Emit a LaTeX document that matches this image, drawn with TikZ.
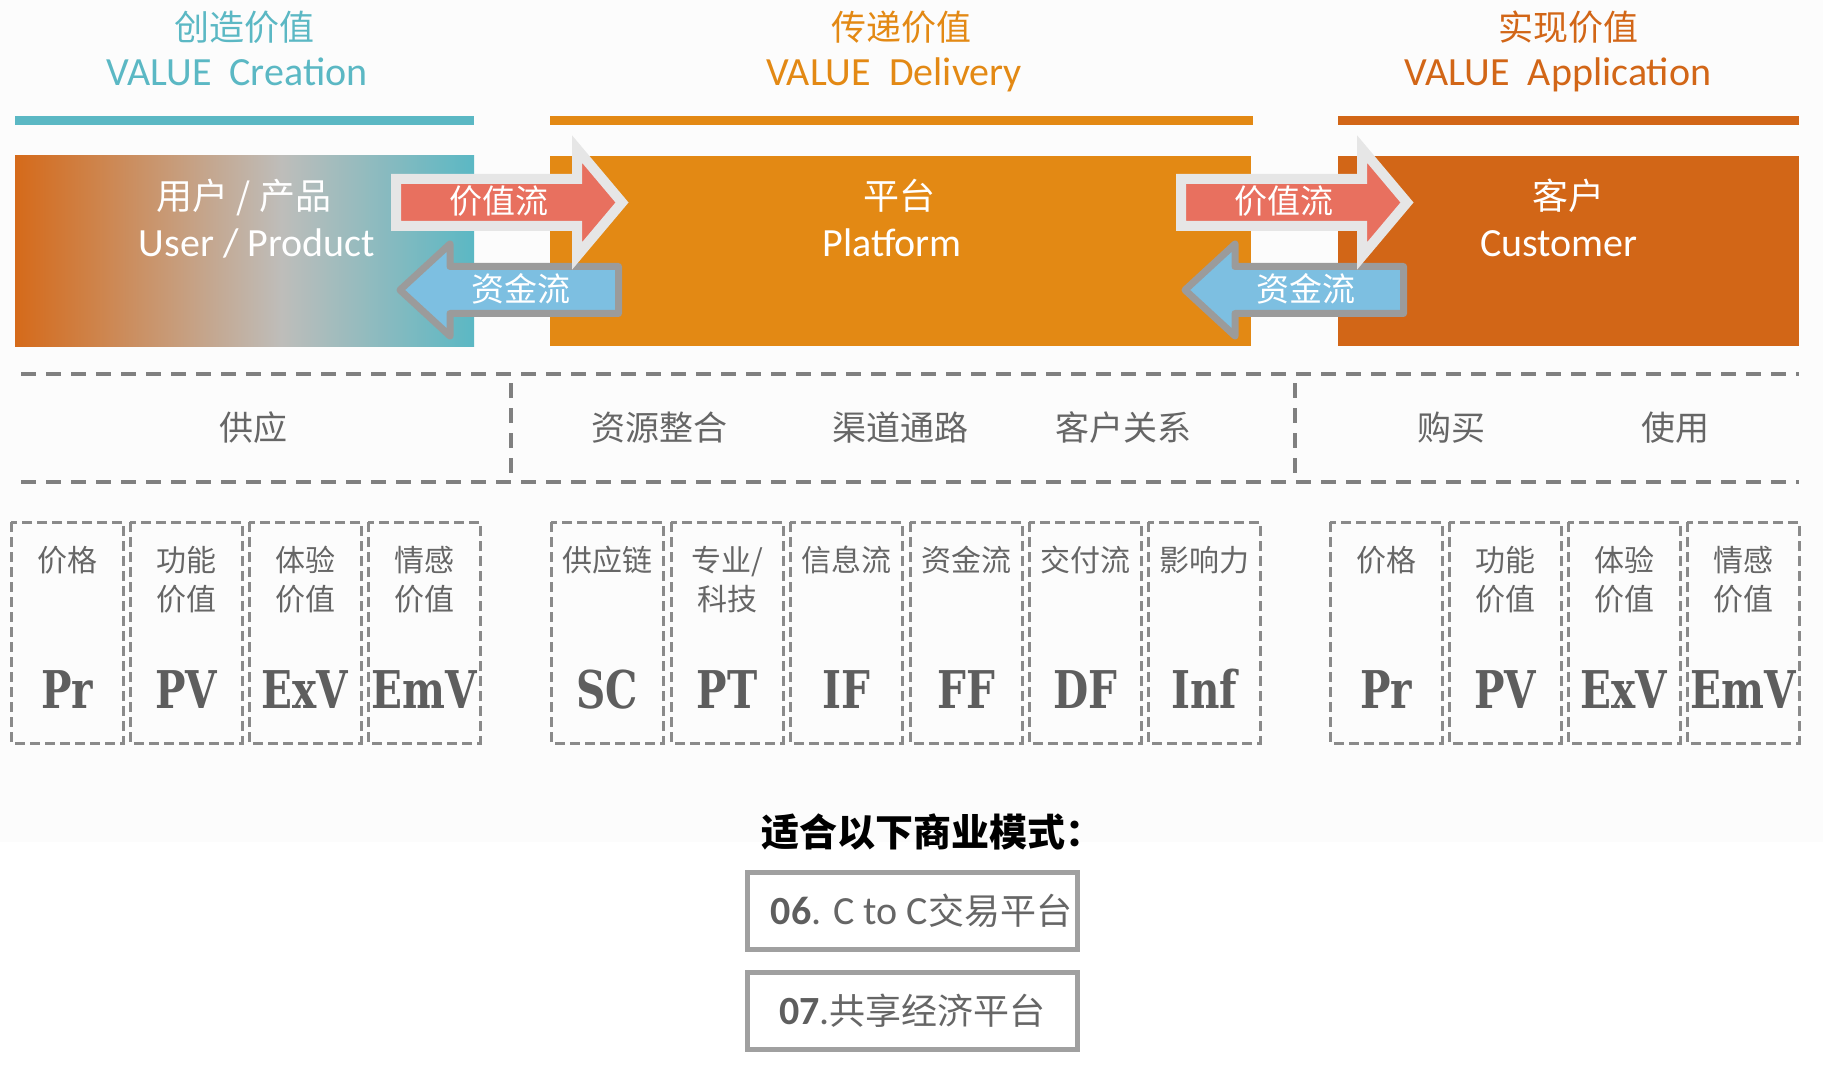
\documentclass[tikz,border=0pt]{standalone}
\usepackage{fontspec}
\usepackage{xcolor}
\setmainfont{Carlito}
\newfontfamily\cjk{Noto Sans CJK SC}
\newfontfamily\slab[FakeStretch=0.78]{DejaVu Serif Bold}
\usetikzlibrary{calc}

\definecolor{creation}{HTML}{5BB8C4}
\definecolor{delivery}{HTML}{E38914}
\definecolor{application}{HTML}{D26617}
\definecolor{valred}{HTML}{E8705F}
\definecolor{valrim}{HTML}{E6E6E6}
\definecolor{fundblue}{HTML}{7DBFE1}
\definecolor{fundrim}{HTML}{9B9B9B}
\definecolor{txtgray}{HTML}{666666}
\definecolor{abbrgray}{HTML}{5E5E5E}
\definecolor{dashgray}{HTML}{808080}
\definecolor{cellgray}{HTML}{8A8A8A}
\definecolor{modelgray}{HTML}{A0A0A0}
\definecolor{bgpale}{HTML}{FCFCFC}
\definecolor{gradL}{HTML}{D56A1A}
\definecolor{gradM}{HTML}{BEBDBA}
\definecolor{gradR}{HTML}{5BB8C4}
\pgfdeclarehorizontalshading{userprod}{100bp}{color(0bp)=(gradL); color(25bp)=(gradL); color(54bp)=(gradM); color(75bp)=(gradR); color(100bp)=(gradR)}

\begin{document}
\begin{tikzpicture}[x=0.5pt, y=-0.5pt,
  cntitle/.style={anchor=base, font=\cjk\fontsize{17.5}{21}\selectfont},
  entitle/.style={anchor=base, font=\fontsize{20}{24}\selectfont},
  boxcn/.style={anchor=base, white, font=\cjk\fontsize{18}{22}\selectfont},
  boxen/.style={anchor=base, white, font=\fontsize{20}{24}\selectfont},
  flowtxt/.style={anchor=base, white, font=\cjk\fontsize{16.5}{20}\selectfont},
  stagetxt/.style={anchor=base, txtgray, font=\cjk\fontsize{17}{20}\selectfont},
  band/.style={dashgray, line width=2pt, dash pattern=on 7.5pt off 5pt},
  cell/.style={draw=cellgray, line width=1.5pt, dash pattern=on 5pt off 2.5pt},
  celltxt/.style={anchor=north, inner sep=0pt, align=center, txtgray, font=\cjk\fontsize{15}{19.5}\selectfont},
  cellabbr/.style={anchor=base, abbrgray, font=\slab\fontsize{26}{30}\selectfont},
  model/.style={draw=modelgray, line width=2.5pt, minimum width=165pt, minimum height=38.5pt, inner sep=0pt}
]
  \useasboundingbox (0,0) rectangle (1823,1080);
  \fill[bgpale] (0,0) rectangle (1823,842);

  % headings
  \node[cntitle, creation] (hc) at (244,41) {创造价值};
  \node[entitle, creation] (he) at (237,86) {VALUE\ \ Creation};
  \node[cntitle, delivery] (dc) at (901,41) {传递价值};
  \node[entitle, delivery] (de) at (894,86) {VALUE\ \ Delivery};
  \node[cntitle, application] (ac) at (1568,41) {实现价值};
  \node[entitle, application] (ae) at (1558,86) {VALUE\ \ Application};
  \fill[creation] (15,116) rectangle (474,125);
  \fill[delivery] (550,116) rectangle (1253,125);
  \fill[application] (1338,116) rectangle (1799,125);

  % three stages
  \shade[shading=userprod] (15,156) rectangle (474,346);
  \fill[delivery] (550,156) rectangle (1251,346);
  \fill[application] (1338,156) rectangle (1799,346);
  \node[boxcn] (user) at (244,210) {用户 / 产品};
  \node[boxen] (usere) at (257,257) {User / Product};
  \node[boxcn] (plat) at (899,210) {平台};
  \node[boxen] (plate) at (892,257) {Platform};
  \node[boxcn] (cust) at (1568,210) {客户};
  \node[boxen] (custe) at (1559,257) {Customer};

  % flows between stages
  \foreach \dx [count=\i] in {0,785} {
    \draw[fundrim, fill=fundblue, line width=3.5pt, line join=round]
      ({400+\dx},290) -- ({450+\dx},244) -- ({450+\dx},266.5) -- ({618.5+\dx},266.5)
      -- ({618.5+\dx},313.5) -- ({450+\dx},313.5) -- ({450+\dx},336) -- cycle;
    \draw[valrim, fill=valred, line width=5pt, line join=miter]
      ({396+\dx},179) -- ({577+\dx},179) -- ({577+\dx},149) -- ({622+\dx},202.5)
      -- ({577+\dx},256) -- ({577+\dx},226) -- ({396+\dx},226) -- cycle;
    \node[flowtxt] (val\i) at ({499+\dx},214) {价值流};
    \node[flowtxt] (fund\i) at ({521+\dx},301) {资金流};
  }

  % activities band
  \draw[band] (21,374) -- (1799,374);
  \draw[band] (21,482) -- (1799,482);
  \draw[band] (511,383) -- (511,482);
  \draw[band] (1295,383) -- (1295,482);
  \node[stagetxt] (s1) at (253,440) {供应};
  \node[stagetxt] (s2) at (659,440) {资源整合};
  \node[stagetxt] (s3) at (900,440) {渠道通路};
  \node[stagetxt] (s4) at (1123,440) {客户关系};
  \node[stagetxt] (s5) at (1451,440) {购买};
  \node[stagetxt] (s6) at (1675,440) {使用};

  % value cells
  \foreach \x/\lbl/\abbr [count=\i] in {10/价格/Pr, 129/{功能\\价值}/PV, 248/{体验\\价值}/ExV, 367/{情感\\价值}/EmV,
      550/供应链/SC, 670/{专业/\\科技}/PT, 789/信息流/IF, 909/资金流/FF, 1028/交付流/DF, 1147/影响力/Inf,
      1329/价格/Pr, 1448/{功能\\价值}/PV, 1567/{体验\\价值}/ExV, 1686/{情感\\价值}/EmV} {
    \draw[cell] ({\x+1},522) rectangle ({\x+113},743);
    \node[celltxt] (lbl\i) at ({\x+57},546) {\lbl};
    \node[cellabbr] (abbr\i) at ({\x+57},708) {\abbr};
  }

  % business models
  \node[anchor=base, font=\cjk\bfseries\fontsize{19}{22}\selectfont] (fit) at (932,846) {适合以下商业模式：};
  \node[model] (m06) at (912.5,911) {\fontsize{20}{24}\selectfont\hspace{9pt}%
    {\bfseries\color{abbrgray}06}\color{txtgray}. C to C{\cjk\fontsize{18}{22}\selectfont 交易平台}};
  \node[model] (m07) at (912.5,1011) {\fontsize{20}{24}\selectfont
    {\bfseries\color{abbrgray}07}\color{txtgray}.{\cjk\fontsize{18}{22}\selectfont 共享经济平台}};
\end{tikzpicture}
\end{document}
